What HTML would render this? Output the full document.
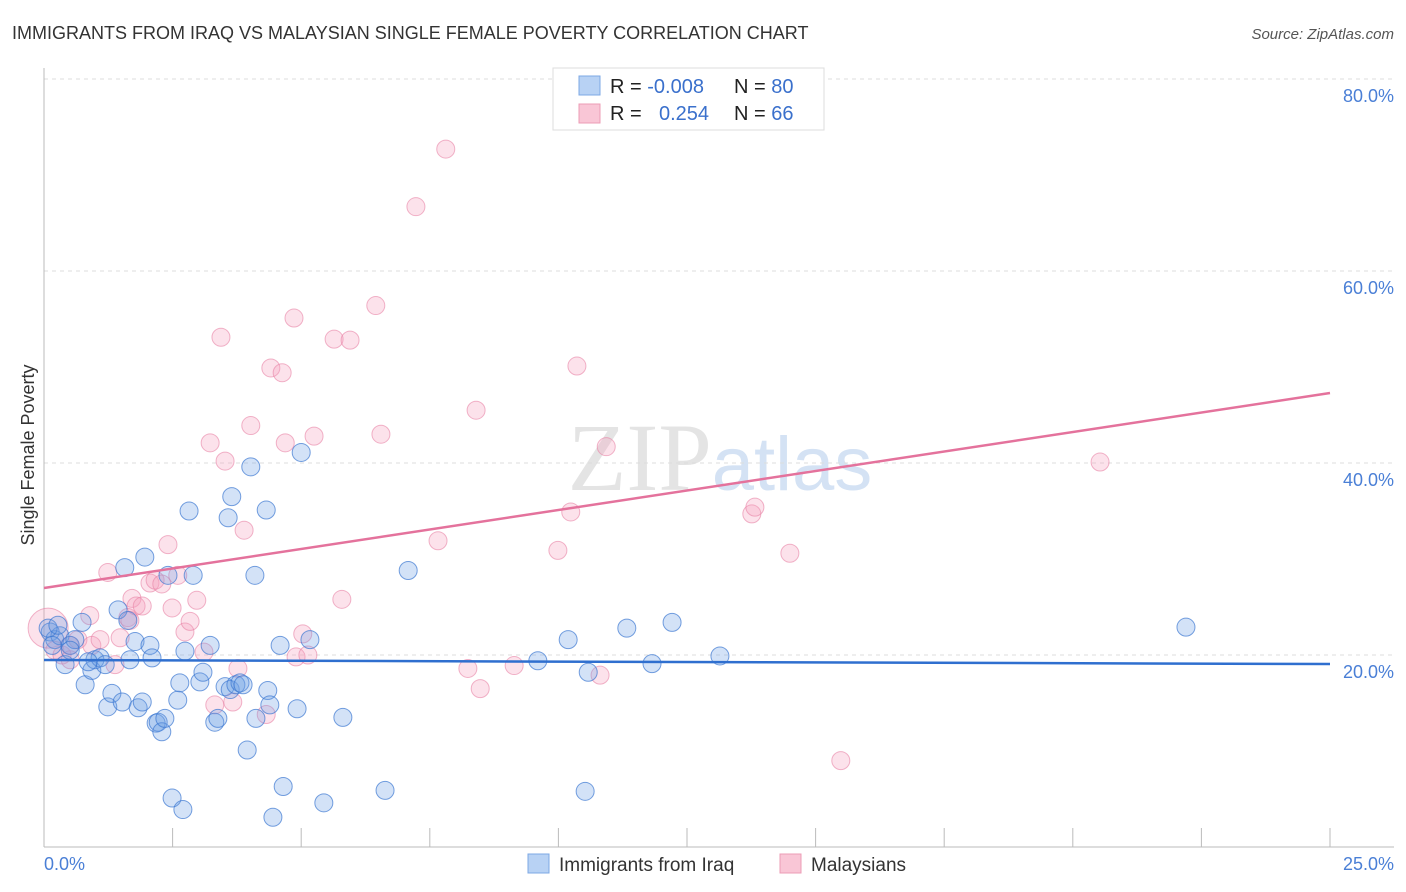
<!DOCTYPE html>
<html><head><meta charset="utf-8"><style>
body{margin:0;background:#fff;font-family:"Liberation Sans",sans-serif;}
svg{display:block}
</style></head><body>
<svg id="chart" width="1406" height="892">
<text x="12" y="39" font-size="18" fill="#333">IMMIGRANTS FROM IRAQ VS MALAYSIAN SINGLE FEMALE POVERTY CORRELATION CHART</text>
<text x="1394" y="39" font-size="15" fill="#555" font-style="italic" text-anchor="end">Source: ZipAtlas.com</text>
<text x="720" y="490" font-size="96" fill="#e4e4e4" text-anchor="middle" font-family="Liberation Serif,serif">ZIP<tspan fill="#d4e2f4" font-family="Liberation Sans,sans-serif" font-size="76">atlas</tspan></text>
<g id="grid"></g>
<g id="axes"></g>
<g id="marks"></g>
<text transform="translate(34,455) rotate(-90)" font-size="18" fill="#333" text-anchor="middle">Single Female Poverty</text>
<text x="44" y="870" font-size="18" fill="#4a7fd6">0.0%</text>
<text x="1394" y="870" font-size="18" fill="#4a7fd6" text-anchor="end">25.0%</text>
<g>
<rect x="553" y="68" width="271" height="62" fill="#fff" stroke="#ddd"/>
<rect x="579" y="76" width="21" height="19" fill="#b8d2f4" stroke="#7da8e4"/>
<rect x="579" y="104" width="21" height="19" fill="#f9c6d6" stroke="#ec9cb6"/>
<text x="610" y="93" font-size="20" fill="#222">R = <tspan fill="#3a70cc">-0.008</tspan></text>
<text x="734" y="93" font-size="20" fill="#222">N = <tspan fill="#3a70cc">80</tspan></text>
<text x="610" y="120" font-size="20" fill="#222">R = <tspan fill="#3a70cc" x="659">0.254</tspan></text>
<text x="734" y="120" font-size="20" fill="#222">N = <tspan fill="#3a70cc">66</tspan></text>
</g>
<g>
<rect x="528" y="854" width="21" height="19" fill="#b8d2f4" stroke="#7da8e4"/>
<text x="559" y="871" font-size="19" fill="#333">Immigrants from Iraq</text>
<rect x="780" y="854" width="21" height="19" fill="#f9c6d6" stroke="#ec9cb6"/>
<text x="811" y="871" font-size="19" fill="#333">Malaysians</text>
</g>
</svg>
<script>
const yTicks=[20,40,60,80];
const yTickLabels=["20.0%","40.0%","60.0%","80.0%"];
const xTicks=[0,2.5,5,7.5,10,12.5,15,17.5,20,22.5,25];
const iraqX=[0.12,0.21,0.31,0.08,0.16,0.41,0.51,0.60,0.74,0.80,0.93,0.99,1.09,1.19,1.24,1.32,1.44,1.52,1.57,1.63,1.67,1.77,1.83,1.91,1.96,2.06,2.10,2.18,2.22,2.29,2.35,2.41,2.49,2.60,2.64,2.70,2.74,2.82,2.90,3.03,3.09,3.23,3.32,3.38,3.52,3.58,3.62,3.65,3.73,3.81,3.87,3.95,4.02,4.10,4.12,4.32,4.35,4.39,4.45,4.59,4.65,4.92,5.00,5.17,5.44,5.81,6.63,7.08,9.60,10.19,10.52,10.58,11.33,11.82,12.21,13.14,22.20,0.27,0.51,0.86];
const iraqY=[22.4,21.6,22.0,22.8,21.0,19.0,21.0,21.6,23.4,16.9,18.4,19.5,19.7,19.0,14.6,16.0,24.7,15.1,29.1,23.6,19.5,21.4,14.5,15.1,30.2,21.0,19.7,12.9,13.0,12.0,13.4,28.3,5.1,15.3,17.1,3.9,20.4,35.0,28.3,17.2,18.2,21.0,13.0,13.4,16.7,34.3,16.4,36.5,16.9,17.1,16.9,10.1,39.6,28.3,13.4,35.1,16.3,14.8,3.1,21.0,6.3,14.4,41.1,21.6,4.6,13.5,5.9,28.8,19.4,21.6,5.8,18.2,22.8,19.1,23.4,19.9,22.9,23.1,20.5,19.3];
const malayX=[0.08,0.21,0.35,0.51,0.66,0.89,0.93,1.09,1.24,1.38,1.48,1.63,1.71,1.79,1.91,2.06,2.16,2.29,2.41,2.49,2.60,2.74,2.84,2.97,3.11,3.23,3.32,3.44,3.52,3.67,3.77,3.89,4.02,4.32,4.41,4.63,4.69,4.86,4.90,5.03,5.13,5.25,5.64,5.79,5.95,6.45,6.55,7.23,7.66,7.81,8.24,8.40,8.48,9.14,9.99,10.24,10.36,10.81,10.93,13.76,13.82,14.50,15.49,20.53,1.67,0.5];
const malayY=[22.8,20.5,20.0,19.5,21.6,24.1,21.0,21.6,28.6,19.0,21.8,23.9,25.9,25.1,25.1,27.5,27.8,27.4,31.5,24.9,28.3,22.4,23.5,25.7,20.3,42.1,14.8,53.1,40.2,15.1,18.6,33.0,43.9,13.8,49.9,49.4,42.1,55.1,19.8,22.2,20.0,42.8,52.9,25.8,52.8,56.4,43.0,66.7,31.9,72.7,18.6,45.5,16.5,18.9,30.9,34.9,50.1,17.9,41.7,34.7,35.4,30.6,9.0,40.1,23.6,21.0];
const iraqTrend=[19.48,19.06];
const malayTrend=[26.98,47.29];
const NS="http://www.w3.org/2000/svg";
const X0=44,X1=1330,Y0=847,PX20=192;
function sx(v){return X0+v/25*(X1-X0);}
function sy(v){return Y0-v/20*PX20;}
function mk(tag,attrs,parent){const e=document.createElementNS(NS,tag);for(const k in attrs)e.setAttribute(k,attrs[k]);parent.appendChild(e);return e;}
const grid=document.getElementById('grid'),axes=document.getElementById('axes'),marks=document.getElementById('marks');
yTicks.forEach((t,i)=>{
 const l=mk('line',{x1:X0,x2:1394,y1:sy(t),y2:sy(t),stroke:'#ddd','stroke-dasharray':'4,4'},grid);
 
 
 const tx=mk('text',{x:1394,y:sy(t)+23,'font-size':18,fill:'#4a7fd6','text-anchor':'end'},axes);
 tx.textContent=yTickLabels[i];
 
 
});
const ya=mk('line',{x1:X0,x2:X0,y1:68,y2:Y0,stroke:'#bbb'},axes);


const xa=mk('line',{x1:X0,x2:1394,y1:Y0,y2:Y0,stroke:'#bbb'},axes);


xTicks.forEach(t=>{
 const l=mk('line',{x1:sx(t),x2:sx(t),y1:828,y2:Y0,stroke:'#bbb'},axes);
 
 
});
malayX.forEach((x,i)=>{
 const c=mk('circle',{cx:sx(x),cy:sy(malayY[i]),r:i===0?20:9,fill:'rgba(244,160,188,0.3)',stroke:'rgba(232,130,165,0.6)','stroke-width':1},marks);
 
 
});
iraqX.forEach((x,i)=>{
 const c=mk('circle',{cx:sx(x),cy:sy(iraqY[i]),r:9,fill:'rgba(110,160,230,0.3)',stroke:'rgba(60,120,210,0.7)','stroke-width':1},marks);
 
 
});
const tl1=mk('line',{x1:sx(0),x2:sx(25),y1:sy(malayTrend[0]),y2:sy(malayTrend[1]),stroke:'#e4729c','stroke-width':2.5},marks);


const tl2=mk('line',{x1:sx(0),x2:sx(25),y1:sy(iraqTrend[0]),y2:sy(iraqTrend[1]),stroke:'#2f6fcf','stroke-width':2.5},marks);


</script>
</body></html>
